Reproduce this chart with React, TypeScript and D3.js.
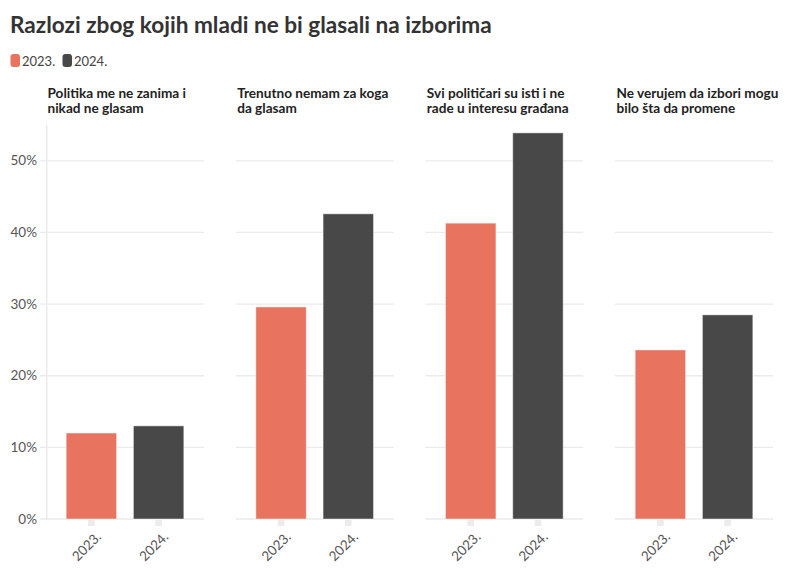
import React from "react";
import * as d3 from "d3";

const title = "Razlozi zbog kojih mladi ne bi glasali na izborima";
const years = ["2023.", "2024."];
const yearColors = ["#e8735f", "#484848"];
const categories = [
  ["Politika me ne zanima i", "nikad ne glasam"],
  ["Trenutno nemam za koga", "da glasam"],
  ["Svi političari su isti i ne", "rade u interesu građana"],
  ["Ne verujem da izbori mogu", "bilo šta da promene"],
];
const values2023 = [12.0, 29.6, 41.3, 23.6];
const values2024 = [13.0, 42.6, 53.9, 28.5];
const yTicks = [0, 10, 20, 30, 40, 50];

const W = 794;
const H = 575;
const FONT = "Lato, 'Noto Sans', sans-serif";

export default function App() {
  const catKeys = categories.map((c, i) => String(i));
  const panel = d3.scaleBand<string>().domain(catKeys).range([46, 773]).paddingInner(0.167).paddingOuter(0);
  const inner = d3.scaleBand<string>().domain(years).range([0, panel.bandwidth()]).paddingInner(0.25).paddingOuter(0.3);
  const y = d3.scaleLinear().domain([0, 55]).range([519, 125]);
  const series = [values2023, values2024];

  return (
    <svg width={W} height={H} style={{ position: "absolute", left: 0, top: 0, background: "#fff" }} fontFamily={FONT}>
      <text x={10} y={33} fontSize={22.6} fontWeight={700} fill="#333">{title}</text>
      {years.map((yr, i) => (
        <g key={yr} transform={`translate(${10 + i * 52},0)`}>
          <rect x={0.5} y={54} width={9.5} height={13} rx={3} fill={yearColors[i]} />
          <text x={12} y={65.5} fontSize={13} fill="#444">{yr}</text>
        </g>
      ))}
      {categories.map((cat, ci) => {
        const x0 = panel(String(ci))!;
        const bw = panel.bandwidth();
        return (
          <g key={ci} transform={`translate(${x0},0)`}>
            {cat.map((line, li) => (
              <text key={li} x={1.5} y={98 + li * 15} fontSize={13.6} fontWeight={700} fill="#222">
                {line}
              </text>
            ))}
            {yTicks.map((t) => (
              <line key={t} x1={ci === 0 ? -6 : 0} x2={bw} y1={y(t)} y2={y(t)} stroke="#ebebeb" strokeWidth={1.3} />
            ))}
            {ci === 0 && (
              <line x1={0.7} x2={0.7} y1={125} y2={520} stroke="#ebebeb" strokeWidth={1.5} />
            )}
            {ci === 0 &&
              yTicks.map((t) => (
                <text key={t} x={-9} y={y(t)} dy="0.34em" textAnchor="end" fontSize={13.5} fill="#555">
                  {t}%
                </text>
              ))}
            {years.map((yr, yi) => {
              const v = series[yi][ci];
              const bx = inner(yr)!;
              return (
                <rect
                  key={yr}
                  x={bx}
                  y={y(v)}
                  width={inner.bandwidth()}
                  height={y(0) - y(v)}
                  fill={yearColors[yi]}
                  stroke="rgba(255,255,255,0.45)"
                  strokeWidth={1}
                />
              );
            })}
            {years.map((yr) => {
              const cx = inner(yr)! + inner.bandwidth() / 2;
              return (
                <g key={yr}>
                  <rect x={cx - 3.3} y={520} width={6.6} height={6} fill="#ececec" />
                  <text
                    transform={`translate(${cx + 4},${531}) rotate(-45)`}
                    textAnchor="end"
                    dy="0.7em"
                    fontSize={13.5}
                    fill="#555"
                  >
                    {yr}
                  </text>
                </g>
              );
            })}
          </g>
        );
      })}
    </svg>
  );
}
